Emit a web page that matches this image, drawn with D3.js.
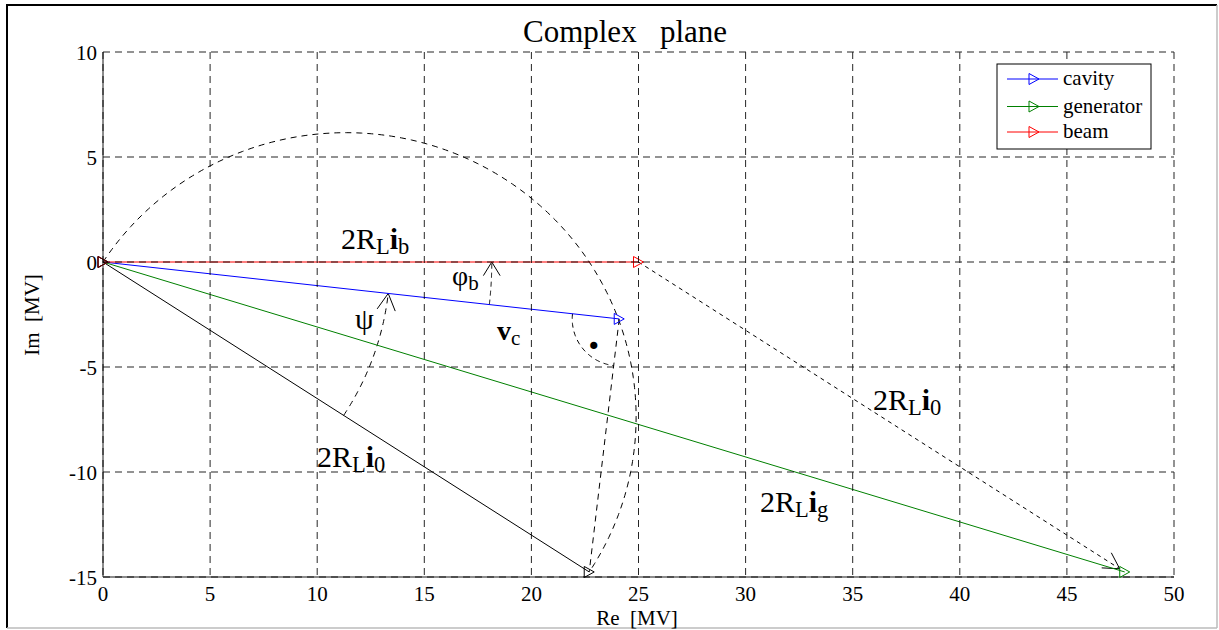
<!DOCTYPE html>
<html><head><meta charset="utf-8">
<script src="https://cdn.jsdelivr.net/npm/d3@7"></script>
<style>body{margin:0;background:#fff} svg{display:block} svg text{font-family:'Liberation Serif','Times New Roman',serif;fill:#000}</style>
</head><body><svg id="c" width="1219" height="630" font-family="Liberation Serif"></svg>
<script>
// ---- data ----
const xTicks = [0, 5, 10, 15, 20, 25, 30, 35, 40, 45, 50];
const yTicks = [-15, -10, -5, 0, 5, 10];
const seriesNames = ["cavity", "generator", "beam"];
const seriesColors = ["#0000ff", "#008000", "#ff0000"];
const seriesEnds = [[24.1, -2.71], [47.7, -14.76], [25, 0]]; // vector tips [Re, Im]
const i0End = [22.7, -14.76];                                   // 2R_L i0 tip
const psiRadius = 13.4;
const phiRadius = 18.15;

// ---- setup ----
const FONT = "'Liberation Serif', 'Times New Roman', serif";
const svg = d3.select("#c");
const x = d3.scaleLinear().domain([0, 50]).range([103, 1174]);
const y = d3.scaleLinear().domain([-15, 10]).range([577, 52]);
const line = d3.line().x(d => x(d[0])).y(d => y(d[1]));
const pline = d3.line();
function txt(g) { return g.append("text").attr("font-family", FONT); }

// outer frame
svg.append("line").attr("x1", 7).attr("y1", 5).attr("x2", 7).attr("y2", 628).attr("stroke", "#000").attr("stroke-width", 2);
svg.append("line").attr("x1", 6).attr("y1", 5).attr("x2", 1217).attr("y2", 5).attr("stroke", "#000").attr("stroke-width", 2);
svg.append("line").attr("x1", 1217).attr("y1", 5).attr("x2", 1217).attr("y2", 628).attr("stroke", "#bbb").attr("stroke-width", 1.5);
svg.append("line").attr("x1", 7).attr("y1", 628).attr("x2", 1217).attr("y2", 628).attr("stroke", "#bbb").attr("stroke-width", 1.5);

// axis base lines (left, bottom)
svg.append("line").attr("x1", x(0)).attr("y1", y(10)).attr("x2", x(0)).attr("y2", y(-15)).attr("stroke", "#666").attr("stroke-width", 1.5);
svg.append("line").attr("x1", x(0)).attr("y1", y(-15)).attr("x2", x(50)).attr("y2", y(-15)).attr("stroke", "#666").attr("stroke-width", 1.5);

function triangle(g, px, py, color) {
  g.append("path")
    .attr("d", `M${px - 5},${py - 5.5}L${px - 5},${py + 5.5}L${px + 5},${py}Z`)
    .attr("fill", "none").attr("stroke", color).attr("stroke-width", 1);
}
function arrowHead(g, tip, ang, len, half) {
  const p1 = [tip[0] - len * Math.cos(ang - half), tip[1] - len * Math.sin(ang - half)];
  const p2 = [tip[0] - len * Math.cos(ang + half), tip[1] - len * Math.sin(ang + half)];
  g.append("path").attr("d", pline([p1, tip, p2])).attr("fill", "none").attr("stroke", "#000").attr("stroke-width", 1);
}

const gData = svg.append("g");

// big dashed semicircle (locus), diameter from origin to i0 tip
{
  const c = [i0End[0] / 2, i0End[1] / 2];
  const R = Math.hypot(c[0], c[1]);
  const a0 = Math.atan2(-c[1], -c[0]);
  const pts = d3.range(0, 181).map(k => {
    const a = a0 - Math.PI * k / 180;
    return [c[0] + R * Math.cos(a), c[1] + R * Math.sin(a)];
  });
  gData.append("path").attr("d", line(pts)).attr("fill", "none").attr("stroke", "#000")
    .attr("stroke-width", 1).attr("stroke-dasharray", "6,5");
}

// dashed line from cavity tip to i0 tip
gData.append("path").attr("d", line([seriesEnds[0], i0End])).attr("fill", "none")
  .attr("stroke", "#000").attr("stroke-width", 1).attr("stroke-dasharray", "6,5");

// right-angle arc at cavity tip
{
  const P = [x(seriesEnds[0][0]), y(seriesEnds[0][1])];
  let a1 = Math.atan2(y(0) - P[1], x(0) - P[0]);
  const a2 = Math.atan2(y(i0End[1]) - P[1], x(i0End[0]) - P[0]);
  if (a2 - a1 > Math.PI) a1 += 2 * Math.PI;
  if (a1 - a2 > Math.PI) a1 -= 2 * Math.PI;
  const r = 47;
  const pts = d3.range(0, 61).map(k => {
    const a = a1 + (a2 - a1) * k / 60;
    return [P[0] + r * Math.cos(a), P[1] + r * Math.sin(a)];
  });
  gData.append("path").attr("d", pline(pts)).attr("fill", "none").attr("stroke", "#000")
    .attr("stroke-width", 1).attr("stroke-dasharray", "5,4");
  txt(svg).attr("x", P[0] - 31).attr("y", P[1] + 30).attr("font-size", 44)
    .attr("font-weight", "bold").text(".");
}

// arc helper around origin (data space)
function originArc(r, aStart, aEnd, dash, len, half) {
  const pts = d3.range(0, 61).map(k => {
    const a = aStart + (aEnd - aStart) * k / 60;
    return [x(r * Math.cos(a)), y(r * Math.sin(a))];
  });
  gData.append("path").attr("d", pline(pts)).attr("fill", "none").attr("stroke", "#000")
    .attr("stroke-width", 1).attr("stroke-dasharray", dash);
  const n = pts.length;
  const ang = Math.atan2(pts[n - 1][1] - pts[n - 3][1], pts[n - 1][0] - pts[n - 3][0]);
  arrowHead(gData, pts[n - 1], ang, len, half);
}
const angI0 = Math.atan2(i0End[1], i0End[0]);
const angCav = Math.atan2(seriesEnds[0][1], seriesEnds[0][0]);
const angBeam = Math.atan2(seriesEnds[2][1], seriesEnds[2][0]);
originArc(psiRadius, angI0, angCav, "6,5", 19, 0.5);
originArc(phiRadius, angCav, angBeam, "5,4", 16, 0.55);

// dotted arrow from beam tip to generator tip
{
  const A = [x(seriesEnds[2][0]), y(seriesEnds[2][1])];
  const B = [x(seriesEnds[1][0]), y(seriesEnds[1][1])];
  const ang = Math.atan2(B[1] - A[1], B[0] - A[0]);
  const T = [B[0] - 6 * Math.cos(ang), B[1] - 6 * Math.sin(ang)];
  gData.append("path").attr("d", pline([A, T])).attr("fill", "none").attr("stroke", "#000")
    .attr("stroke-width", 1).attr("stroke-dasharray", "4,4");
  arrowHead(gData, T, ang, 18, 0.52);
}

// vector lines with triangle markers
seriesEnds.forEach((e, i) => {
  gData.append("path").attr("d", line([[0, 0], e])).attr("fill", "none")
    .attr("stroke", seriesColors[i]).attr("stroke-width", 1);
});
gData.append("path").attr("d", line([[0, 0], i0End])).attr("fill", "none")
  .attr("stroke", "#000").attr("stroke-width", 1);
seriesEnds.forEach((e, i) => {
  triangle(gData, x(0), y(0), seriesColors[i]);
  triangle(gData, x(e[0]), y(e[1]), seriesColors[i]);
});
triangle(gData, x(i0End[0]), y(i0End[1]), "#000");
triangle(gData, x(0), y(0), "#3a0000");

// grid (dashed, on top)
const gGrid = svg.append("g").attr("stroke", "#000").attr("stroke-width", 1).attr("stroke-dasharray", "7,5").attr("opacity", 0.85);
xTicks.forEach(t => gGrid.append("line").attr("x1", x(t)).attr("x2", x(t)).attr("y1", y(10)).attr("y2", y(-15)));
yTicks.forEach(t => gGrid.append("line").attr("x1", x(0)).attr("x2", x(50)).attr("y1", y(t)).attr("y2", y(t)));

// tick labels
xTicks.forEach(t => txt(svg).attr("x", x(t)).attr("y", 601).attr("text-anchor", "middle").attr("font-size", 21).text(t));
yTicks.forEach(t => txt(svg).attr("x", 97).attr("y", y(t) + 8).attr("text-anchor", "end").attr("font-size", 21).text(t));

// axis labels & title
txt(svg).attr("x", 637).attr("y", 625).attr("text-anchor", "middle").attr("font-size", 21)
  .style("white-space", "pre").text("Re  [MV]");
txt(svg).attr("transform", "translate(39,315) rotate(-90)").attr("text-anchor", "middle").attr("font-size", 21)
  .style("white-space", "pre").text("Im  [MV]");
txt(svg).attr("x", 625).attr("y", 42).attr("text-anchor", "middle").attr("font-size", 31)
  .style("white-space", "pre").text("Complex   plane");

// annotation labels
function label(px, py, parts, size) {
  const t = txt(svg).attr("x", px).attr("y", py).attr("font-size", size);
  parts.forEach(p => {
    const s = t.append("tspan").text(p.t);
    if (p.b) s.attr("font-weight", "bold");
    if (p.sub) s.attr("font-size", size * 0.75).attr("dy", 5);
    if (p.up) s.attr("dy", -5);
  });
}
label(341, 249, [{t: "2R"}, {t: "L", sub: 1}, {t: "i", b: 1, up: 1}, {t: "b", sub: 1}], 30);
label(317, 467, [{t: "2R"}, {t: "L", sub: 1}, {t: "i", b: 1, up: 1}, {t: "0", sub: 1}], 30);
label(873, 410, [{t: "2R"}, {t: "L", sub: 1}, {t: "i", b: 1, up: 1}, {t: "0", sub: 1}], 30);
label(760, 512, [{t: "2R"}, {t: "L", sub: 1}, {t: "i", b: 1, up: 1}, {t: "g", sub: 1}], 30);
label(452, 285, [{t: "φ"}, {t: "b", sub: 1}], 28);
label(355, 329, [{t: "ψ"}], 30);
label(497, 340, [{t: "v", b: 1}, {t: "c", sub: 1}], 28);

// legend
const lg = svg.append("g");
lg.append("rect").attr("x", 997).attr("y", 64).attr("width", 154).attr("height", 85)
  .attr("fill", "#fff").attr("stroke", "#000").attr("stroke-width", 1);
const legY = [79, 106.5, 132];
seriesNames.forEach((n, i) => {
  lg.append("line").attr("x1", 1007).attr("x2", 1058).attr("y1", legY[i]).attr("y2", legY[i])
    .attr("stroke", seriesColors[i]).attr("stroke-width", 1);
  triangle(lg, 1034, legY[i], seriesColors[i]);
  txt(lg).attr("x", 1063).attr("y", legY[i] + 6).attr("font-size", 21).text(n);
});
</script></body></html>
